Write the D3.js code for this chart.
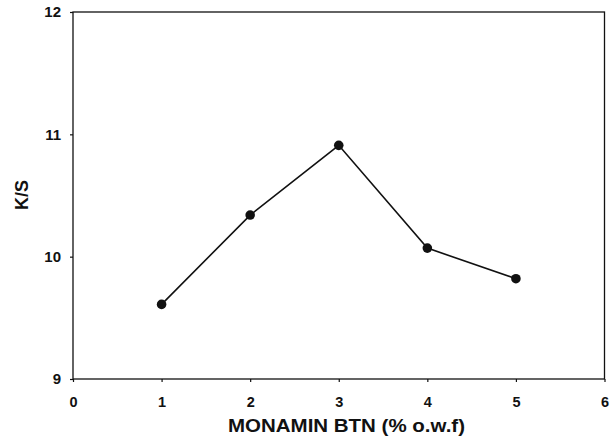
<!DOCTYPE html>
<html><head><meta charset="utf-8">
<script src="https://cdn.jsdelivr.net/npm/d3@7"></script>
<style>body{margin:0;background:#fff}svg{display:block}</style>
</head><body>
<svg id="c" width="615" height="440"></svg>
<script>
const xValues = [1, 2, 3, 4, 5];
const ksValues = [9.61, 10.34, 10.91, 10.07, 9.82];
const xTicks = [0, 1, 2, 3, 4, 5, 6];
const yTicks = [9, 10, 11, 12];
const xTitle = "MONAMIN BTN (% o.w.f)";
const yTitle = "K/S";

const svg = d3.select("#c");
const L = 73, R = 604.5, T = 12, B = 379;
const x = d3.scaleLinear().domain([0, 6]).range([L, R]);
const y = d3.scaleLinear().domain([9, 12]).range([B, T]);
const font = "Liberation Sans, Arial, sans-serif";

// frame
svg.append("rect").attr("x", L).attr("y", T).attr("width", R - L).attr("height", B - T)
  .attr("fill", "none").attr("stroke", "#111").attr("stroke-width", 1.3);

const xa = svg.append("g").attr("transform", `translate(0,${B})`)
  .call(d3.axisBottom(x).tickValues(xTicks).tickSize(3).tickPadding(14.5).tickFormat(d3.format("d")));
const ya = svg.append("g").attr("transform", `translate(${L},0)`)
  .call(d3.axisLeft(y).tickValues(yTicks).tickSize(3).tickPadding(9).tickFormat(d3.format("d")));
[xa, ya].forEach(g => {
  g.select(".domain").remove();
  g.selectAll("line").attr("stroke", "#111").attr("stroke-width", 1.2);
  g.selectAll("text").attr("fill", "#111").style("font-family", font)
    .style("font-size", "14.5px").style("font-weight", "bold");
});
ya.selectAll("text").style("font-size", "15px");

const line = d3.line().x((d, i) => x(xValues[i])).y(d => y(d));
svg.append("path").datum(ksValues).attr("d", line)
  .attr("fill", "none").attr("stroke", "#111").attr("stroke-width", 1.6);

svg.selectAll("circle.pt").data(ksValues).join("circle").attr("class", "pt")
  .attr("cx", (d, i) => x(xValues[i])).attr("cy", d => y(d)).attr("r", 4.8).attr("fill", "#111");

svg.append("text").attr("x", 346.5).attr("y", 432)
  .attr("text-anchor", "middle").attr("fill", "#111")
  .attr("textLength", 237).attr("lengthAdjust", "spacingAndGlyphs")
  .style("font-family", font).style("font-size", "19px").style("font-weight", "bold")
  .text(xTitle);

svg.append("text").attr("transform", "translate(28,195) rotate(-90)")
  .attr("text-anchor", "middle").attr("fill", "#111")
  .style("font-family", font).style("font-size", "18px").style("font-weight", "bold")
  .text(yTitle);
</script>
</body></html>
